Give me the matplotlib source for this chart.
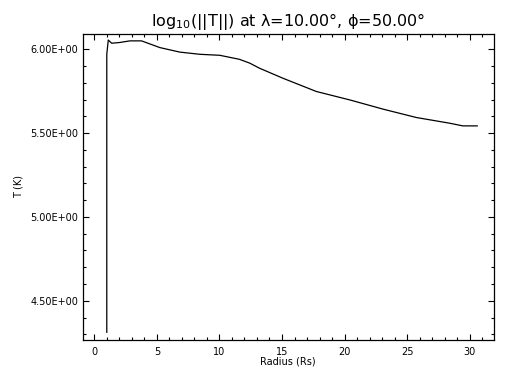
import numpy as np
import matplotlib
matplotlib.use("Agg")
import matplotlib.pyplot as plt
from matplotlib.ticker import MultipleLocator, FormatStrFormatter

# radius (Rs) and log10 temperature
radius = [1.00, 1.00, 1.12, 1.39, 2.00, 2.85, 3.78, 5.24, 6.84, 8.43, 10.03,
          11.60, 12.43, 13.20, 15.08, 17.75, 20.41, 23.07, 25.73, 28.39,
          29.45, 30.60]
logT = [4.312, 5.970, 6.055, 6.036, 6.040, 6.050, 6.050, 6.010, 5.983, 5.970,
        5.964, 5.940, 5.917, 5.887, 5.827, 5.748, 5.698, 5.643, 5.593, 5.559,
        5.543, 5.543]

fig = plt.figure(figsize=(5.12, 3.84), dpi=100)
ax = fig.add_axes([83/512, 1 - 340/384, (493.5 - 83)/512, (340 - 34)/384])
ax.plot(radius, logT, color='black', lw=0.9)

ax.set_xlim(-0.9, 31.9)
ax.set_ylim(4.266, 6.091)
ax.xaxis.set_major_locator(MultipleLocator(5))
ax.xaxis.set_minor_locator(MultipleLocator(1))
ax.yaxis.set_major_locator(MultipleLocator(0.5))
ax.yaxis.set_minor_locator(MultipleLocator(0.1))
ax.yaxis.set_major_formatter(FormatStrFormatter('%.2E'))
ax.tick_params(which='both', direction='in', top=True, right=True,
               labelsize=7, width=0.8)
ax.tick_params(which='major', length=4)
ax.tick_params(which='minor', length=2.5)
ax.tick_params(axis='x', pad=5)
for s in ax.spines.values():
    s.set_linewidth(0.9)

ax.set_xlabel('Radius (Rs)', fontsize=7, labelpad=0)
ax.set_ylabel('T (K)', fontsize=7, labelpad=5)
ax.set_title(r'log$_{10}$(||T||) at λ=10.00°, ϕ=50.00°', fontsize=11.5, pad=5.5)

fig.savefig("out.png", dpi=100, facecolor='white')
